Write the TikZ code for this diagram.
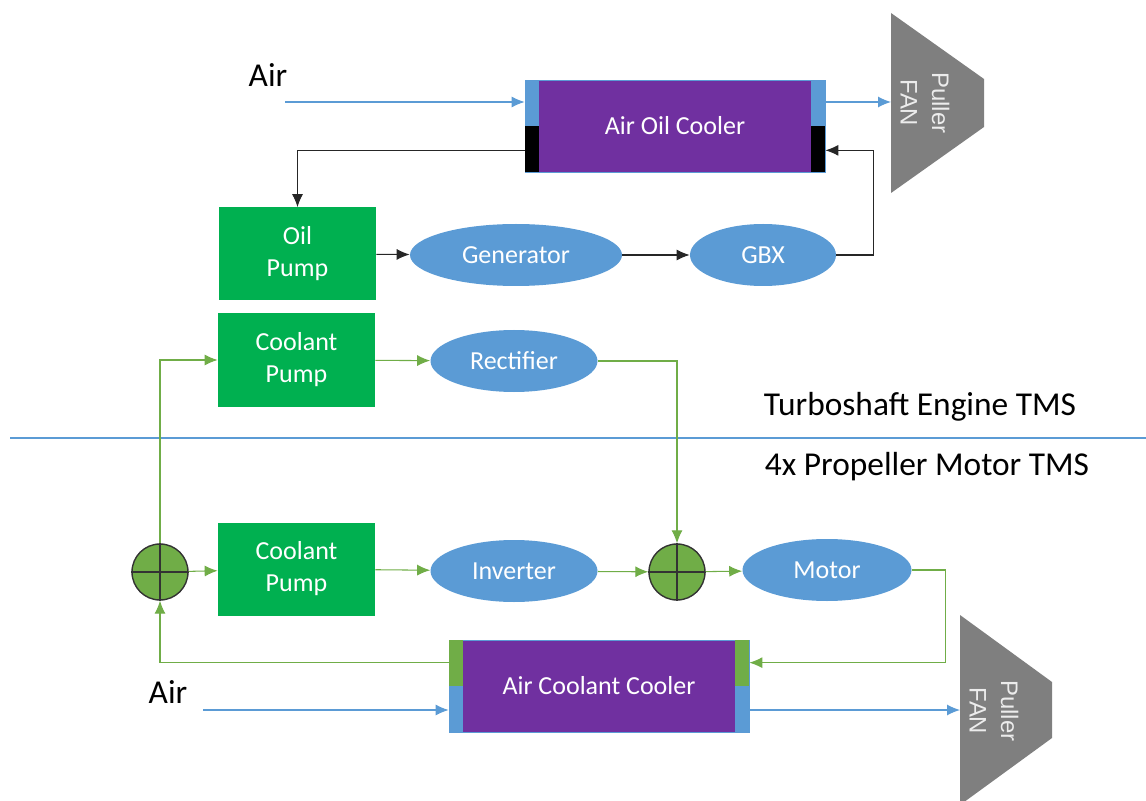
\documentclass[tikz,border=0pt]{standalone}
\usepackage{fontspec}
\setmainfont{Carlito}
\newfontfamily\arialfont{Liberation Sans}
\usepackage{tikz}
\usetikzlibrary{shapes.geometric,calc,arrows.meta}
\definecolor{gr}{HTML}{00B050}
\definecolor{bu}{HTML}{5B9BD5}
\definecolor{pu}{HTML}{7030A0}
\definecolor{lg}{HTML}{70AD47}
\definecolor{fg}{HTML}{7F7F7F}

\begin{document}
\begin{tikzpicture}[x=0.2mm,y=-0.2mm,>={Latex[length=2.6mm,width=2.2mm]}]
  \tikzstyle{every node}=[font=\fontsize{14.8}{18.2}\selectfont,text=white,align=center]
  \tikzstyle{pump}=[fill=gr,minimum width=31.4mm,minimum height=18.6mm,inner sep=0]
  \tikzstyle{unit}=[ellipse,fill=bu,minimum height=12.4mm,inner sep=0]
  \tikzstyle{cooler}=[fill=pu,draw=bu,line width=0.4pt,minimum width=60mm,minimum height=18.4mm,inner sep=0]
  \tikzstyle{sum}=[circle,fill=lg,draw=black!80,line width=0.8pt,minimum size=11.2mm,inner sep=0]
  \tikzstyle{air}=[bu,line width=0.6pt,->]
  \tikzstyle{oil}=[black!85,line width=0.6pt,->]
  \tikzstyle{coolant}=[lg,line width=0.6pt,->]
  \tikzstyle{title}=[text=black,font=\fontsize{19}{23}\selectfont]
  \tikzstyle{fantext}=[text=white!85!fg,font=\arialfont\fontsize{13.6}{18}\selectfont,rotate=-90]
  \useasboundingbox (0,0) rectangle (1146,801);

  % engine loop
  \node[title] (airA) at (268,75) {Air};
  \coordinate (airAin) at (285,102);
  \node[cooler] (aoc) at (675,126) {Air Oil Cooler};
  \node[pump] (oilpump) at (297.5,254) {Oil\\Pump};
  \node[unit,minimum width=42.4mm] (gen) at (516,255) {Generator};
  \node[unit,minimum width=29.2mm] (gbx) at (763,255) {GBX};
  \node[pump] (cpA) at (296.5,360) {Coolant\\Pump};
  \node[unit,minimum width=33.4mm] (rect) at (514,361) {Rectifier};

  % puller fans
  \fill[fg] (891,13) -- (984,79) -- (984,127) -- (891,193) -- cycle;
  \node[fantext] (fanA) at (925,103) {Puller\\FAN};
  \coordinate (fanAin) at (891,102);
  \fill[fg] (960,615) -- (1052,682) -- (1052,738) -- (960,805) -- cycle;
  \node[fantext] (fanB) at (994,711) {Puller\\FAN};
  \coordinate (fanBin) at (960,710);

  % split between the two systems
  \draw[bu,line width=1.3pt] (10,438) -- (1146,438);
  \node[title] (engtms) at (920,407) {Turboshaft Engine TMS};
  \node[title] (proptms) at (927,467) {4x Propeller Motor TMS};

  % motor loop
  \node[sum] (sumA) at (160,572) {};
  \node[pump] (cpB) at (296.5,569) {Coolant\\Pump};
  \node[unit,minimum width=33.4mm] (inv) at (514,571) {Inverter};
  \node[sum] (sumB) at (677,572) {};
  \node[unit,minimum width=33.8mm] (motor) at (827,570) {Motor};
  \node[cooler] (acc) at (599,686) {Air Coolant Cooler};
  \node[title] (airB) at (168,692) {Air};
  \coordinate (airBin) at (203,710);

  \foreach \s in {sumA,sumB}
    \draw[black!80,line width=0.8pt] (\s.north) -- (\s.south) (\s.west) -- (\s.east);
  \foreach \c/\up/\dn in {aoc/bu/black,acc/lg/bu} {
    \fill[\up] (\c.north west) rectangle ($(\c.west)+(14,0)$);
    \fill[\dn] (\c.west) rectangle ($(\c.south west)+(14,0)$);
    \fill[\up] (\c.north east) rectangle ($(\c.east)+(-14,0)$);
    \fill[\dn] (\c.east) rectangle ($(\c.south east)+(-14,0)$);
  }

  % air side
  \draw[air] (airAin) -- (airAin -| aoc.west);
  \draw[air] (aoc.east |- fanAin) -- (fanAin);
  \draw[air] (airBin) -- (airBin -| acc.west);
  \draw[air] (acc.east |- fanBin) -- (fanBin);

  % oil
  \draw[oil] ($(aoc.south west)+(0,-22)$) -| (oilpump.north);
  \draw[oil] (oilpump) -- (gen);
  \draw[oil] (gen) -- (gbx);
  \draw[oil] (gbx.east) -- ++(37,0) |- ($(aoc.south east)+(0,-22)$);

  % coolant
  \draw[coolant] (sumA.north) |- (cpA.west);
  \draw[coolant] (cpA) -- (rect);
  \draw[coolant] (rect.east) -| (sumB.north);
  \draw[coolant] (sumA) -- (cpB);
  \draw[coolant] (cpB) -- (inv);
  \draw[coolant] (inv) -- (sumB);
  \draw[coolant] (sumB) -- (motor);
  \draw[coolant] (motor.east) -- ++(34,0) |- ($(acc.north east)+(0,23)$);
  \draw[coolant] ($(acc.north west)+(0,23)$) -| (sumA.south);
\end{tikzpicture}
\end{document}
